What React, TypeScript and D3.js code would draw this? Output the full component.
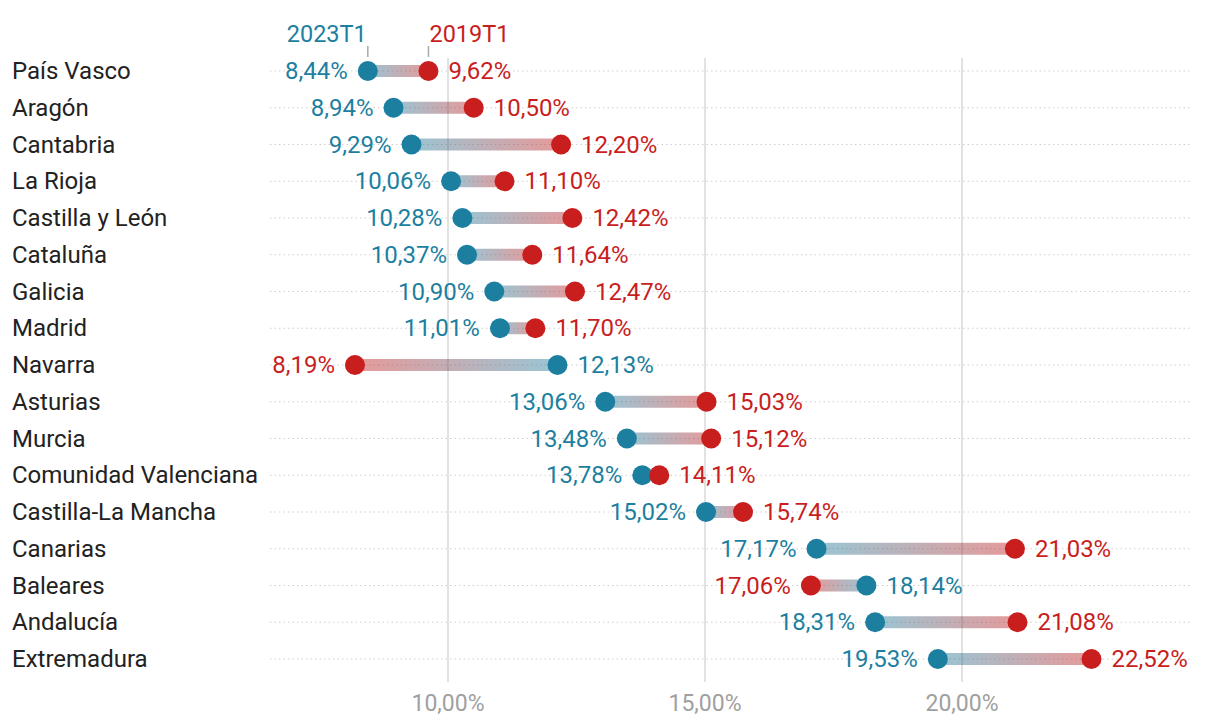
import React from "react";
import * as d3 from "d3";

const regions = ["País Vasco","Aragón","Cantabria","La Rioja","Castilla y León","Cataluña","Galicia","Madrid","Navarra","Asturias","Murcia","Comunidad Valenciana","Castilla-La Mancha","Canarias","Baleares","Andalucía","Extremadura"];
const v2023 = [8.44,8.94,9.29,10.06,10.28,10.37,10.90,11.01,12.13,13.06,13.48,13.78,15.02,17.17,18.14,18.31,19.53];
const v2019 = [9.62,10.50,12.20,11.10,12.42,11.64,12.47,11.70,8.19,15.03,15.12,14.11,15.74,21.03,17.06,21.08,22.52];
const ticks = [10, 15, 20];
const seriesNames = ["2023T1", "2019T1"];

const BLUE = "#1d7fa0";
const RED = "#c81e1e";
const FONT = "Roboto, 'Open Sans', sans-serif";

const fmt = (v: number) => v.toFixed(2).replace(".", ",") + "%";

export default function App() {
  const W = 1220, H = 722;
  const x = d3.scaleLinear().domain([10, 20]).range([448, 962]);
  const y = d3.scalePoint<string>().domain(regions).range([71, 659]);
  const gridTop = 58, gridBottom = 682;
  const lineX0 = 270, lineX1 = 1190;
  return (
    <svg width={W} height={H} style={{ position: "absolute", left: 0, top: 0, fontFamily: FONT }}>
      <defs>
        {regions.map((r, i) => (
          <linearGradient key={r} id={`g${i}`} gradientUnits="userSpaceOnUse"
            x1={x(v2023[i])} x2={x(v2019[i])} y1={0} y2={0}>
            <stop offset="0%" stopColor={BLUE} />
            <stop offset="100%" stopColor={RED} />
          </linearGradient>
        ))}
      </defs>
      {regions.map((r) => (
        <line key={r} x1={lineX0} x2={lineX1} y1={y(r)} y2={y(r)} stroke="#cfcfcf" strokeWidth={1.2} strokeDasharray="1.5,3" />
      ))}
      {ticks.map((t) => (
        <g key={t}>
          <line x1={x(t)} x2={x(t)} y1={gridTop} y2={gridBottom} stroke="#e2e2e2" strokeWidth={2} />
          <text x={x(t)} y={711} textAnchor="middle" fontSize={23} fill="#a0a0a0">{t.toFixed(2).replace(".", ",") + "%"}</text>
        </g>
      ))}
      {regions.map((r, i) => {
        const yy = y(r)!;
        const xb = x(v2023[i]), xr = x(v2019[i]);
        const blueLeft = xb < xr;
        return (
          <g key={r}>
            <text x={12} y={yy + 8} fontSize={24} fill="#222">{r}</text>
            <line x1={xb} x2={xr} y1={yy} y2={yy} stroke={`url(#g${i})`} strokeWidth={12} strokeOpacity={0.45} />
            <circle cx={xb} cy={yy} r={10} fill={BLUE} />
            <circle cx={xr} cy={yy} r={10} fill={RED} />
            <text x={blueLeft ? xb - 20 : xb + 20} y={yy + 8} fontSize={24} fill={BLUE} textAnchor={blueLeft ? "end" : "start"}>{fmt(v2023[i])}</text>
            <text x={blueLeft ? xr + 20 : xr - 20} y={yy + 8} fontSize={24} fill={RED} textAnchor={blueLeft ? "start" : "end"}>{fmt(v2019[i])}</text>
          </g>
        );
      })}
      <line x1={x(v2023[0])} x2={x(v2023[0])} y1={46} y2={57} stroke="#aaa" strokeWidth={1.5} />
      <line x1={x(v2019[0])} x2={x(v2019[0])} y1={46} y2={57} stroke="#aaa" strokeWidth={1.5} />
      <text x={x(v2023[0]) - 1} y={42} fontSize={23.5} fill={BLUE} textAnchor="end">{seriesNames[0]}</text>
      <text x={x(v2019[0]) + 1} y={42} fontSize={23.5} fill={RED} textAnchor="start">{seriesNames[1]}</text>
    </svg>
  );
}
